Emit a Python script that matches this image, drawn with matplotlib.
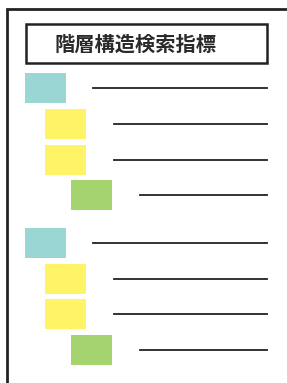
import matplotlib
matplotlib.use("Agg")
import matplotlib.pyplot as plt
from matplotlib.patches import Rectangle

# hierarchy: title + indented entries (level 0, 1, 2)
title = "階層構造検索指標"
levels = [0, 1, 1, 2, 0, 1, 1, 2]
groups = [0, 0, 0, 0, 1, 1, 1, 1]
levelColors = ["#9AD6D3", "#FFF466", "#A5D36E"]

W, H = 287, 383
boxLeft = [25, 45, 71]     # square left edge per level
lineLeft = [93, 114, 140]  # line start per level
lineRight = 267
rowTop0, rowStep, groupGap = 73, 35.8, 11.5
boxW, boxH = 41, 30
ink = "#222222"

fig = plt.figure(figsize=(W / 100, H / 100), dpi=100)
ax = fig.add_axes([0, 0, 1, 1])
ax.set_xlim(0, W)
ax.set_ylim(H, 0)
ax.axis("off")

# outer frame (runs off right and bottom)
ax.plot([7, 7, W + 5], [H + 5, 9, 9], color=ink, linewidth=2.0, solid_joinstyle="miter")

# title box
ax.add_patch(Rectangle((26, 24), 241, 39, fill=False, edgecolor=ink, linewidth=1.8))
ax.text(54, 44.5, title, fontsize=14.6, fontweight="bold", color="#2a2a2a",
        ha="left", va="center", family=["Noto Sans CJK JP", "DejaVu Sans"])

for i, (lv, g) in enumerate(zip(levels, groups)):
    top = rowTop0 + i * rowStep + g * groupGap
    ax.add_patch(Rectangle((boxLeft[lv], top), boxW, boxH, facecolor=levelColors[lv], edgecolor="none"))
    ax.plot([lineLeft[lv], lineRight], [top + boxH / 2] * 2, color=ink, linewidth=1.3)

fig.savefig("out.png", dpi=100)
